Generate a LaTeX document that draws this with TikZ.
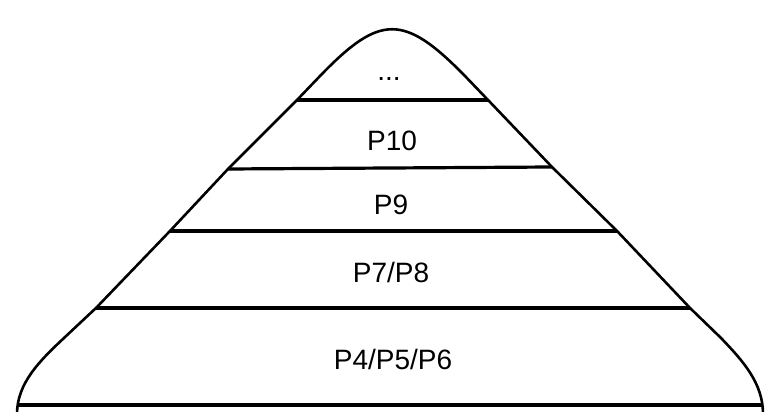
\documentclass[tikz,border=0pt]{standalone}
\usepackage{fontspec}
\setmainfont{Liberation Sans}
\begin{document}
\begin{tikzpicture}[x=1pt,y=1pt,
  outline/.style={line width=2.6pt,line join=round,line cap=round},
  sep/.style={line width=3.2pt},
  lbl/.style={anchor=base,inner sep=0pt,font=\fontsize{28}{33}\selectfont}]
\useasboundingbox (0,0) rectangle (782,412);
% outline coordinates (y measured upward)
\coordinate (bl) at (17,-2);
\coordinate (l4) at (96,104);
\coordinate (l3) at (170,181);
\coordinate (l2) at (228,243);
\coordinate (l1) at (297,312);
\coordinate (r1) at (488,312);
\coordinate (r2) at (552,245);
\coordinate (r3) at (617,181);
\coordinate (r4) at (690,104);
\coordinate (br) at (763,-2);
\coordinate (b0) at (19,7);
\coordinate (b1) at (763,7);
\draw[outline] (bl) .. controls (17,29) and (40,51.5) .. (64,74) -- (l4) -- (l3) -- (l2) -- (l1)
  -- (321,337) .. controls (380,398) and (404,398) .. (464,337)
  -- (r1) -- (r2) -- (r3) -- (r4) -- (721,74) .. controls (743,51) and (763,29) .. (br);
\draw[sep] (l1) -- (r1);
\draw[sep] (l2) -- (r2);
\draw[sep] (l3) -- (r3);
\draw[sep] (l4) -- (r4);
\draw[sep] (b0) -- (b1);
\node[lbl] (t0) at (389,331.5) {...};
\node[lbl] (t1) at (392,261.5) {P10};
\node[lbl] (t2) at (391,197) {P9};
\node[lbl] (t3) at (391,129) {P7/P8};
\node[lbl] (t4) at (393,42) {P4/P5/P6};
\end{tikzpicture}
\end{document}
